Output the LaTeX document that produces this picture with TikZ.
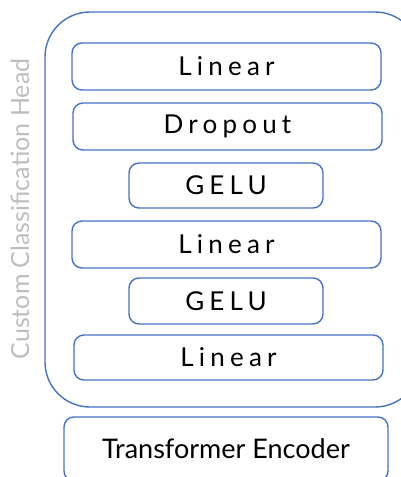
\documentclass[tikz,border=0pt]{standalone}
\usepackage{fontspec}
\setmainfont{Lato}
\newfontfamily\spacedfont[LetterSpace=20]{Lato}
\usepackage{xcolor}
\usepackage{tikz}
\usetikzlibrary{positioning}
\definecolor{boxblue}{RGB}{70,114,196}
\definecolor{headgray}{RGB}{190,190,190}
\tikzset{
    layer/.style = {rectangle, rounded corners=10pt, draw=boxblue, line width=1.4pt, align=center, font=\spacedfont\fontsize{26}{30}\selectfont, minimum height=47pt},
    widelayer/.style = {layer, minimum width=309pt},
    narrowlayer/.style = {layer, minimum width=194pt},
}
\begin{document}
\begin{tikzpicture}[x=1pt, y=-1pt]
\useasboundingbox (0,0) rectangle (401,477);
\clip (0,0) rectangle (401,477);
% head container
\draw[boxblue, line width=1.4pt, rounded corners=45pt] (45,12) rectangle (420,407);
\node[rotate=90, text=headgray, font=\fontsize{25}{28}\selectfont] (head) at (20,209) {Custom Classification Head};
%
\node[widelayer] at (226.5,66.5) (lin1) {Linear};
\node[widelayer] at (227.5,126.5) (drop) {Dropout};
\node[narrowlayer, minimum height=45pt] at (226,185.5) (gelu1) {GELU};
\node[widelayer] at (226.5,244.5) (lin2) {Linear};
\node[narrowlayer, minimum height=46pt] at (226,301) (gelu2) {GELU};
\node[widelayer, minimum height=45pt] at (228.5,357.5) (lin3) {Linear};
%
\node[layer, font=\fontsize{27}{30}\selectfont, minimum width=324pt, minimum height=64pt] at (226,449) (enc) {Transformer Encoder};
\end{tikzpicture}
\end{document}
